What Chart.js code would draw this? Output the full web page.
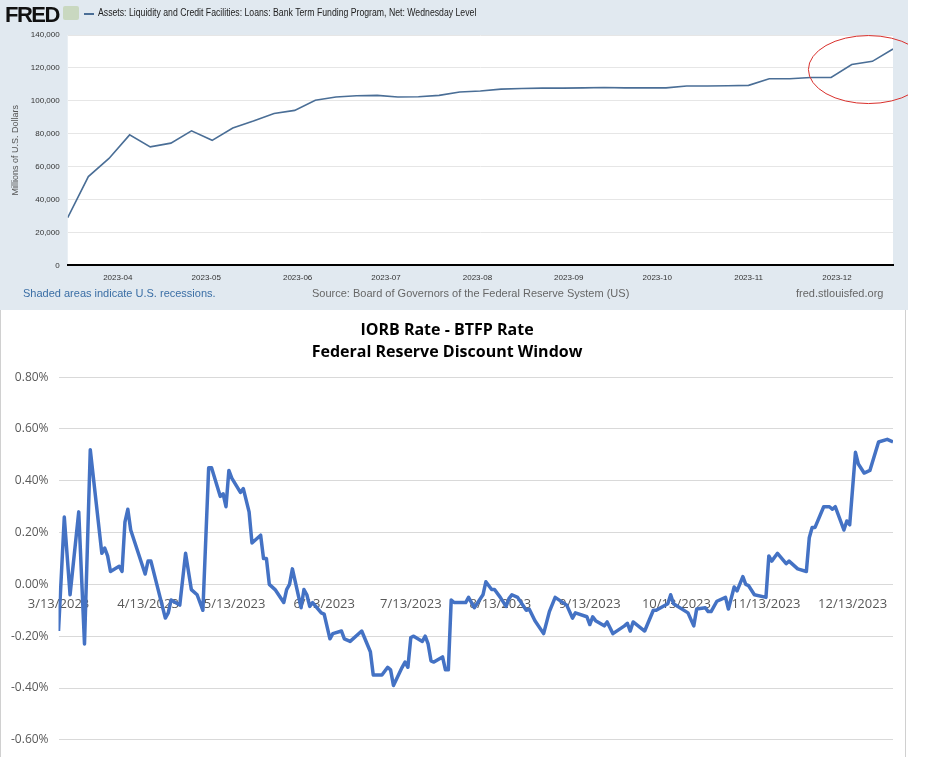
<!DOCTYPE html>
<html><head><meta charset="utf-8">
<script src="https://cdn.jsdelivr.net/npm/chart.js@4"></script>
<style>
body{margin:0;width:927px;height:757px;background:#fff;position:relative;overflow:hidden;font-family:"Liberation Sans",Arial,sans-serif}
#top{position:absolute;left:0;top:0;width:908px;height:310px;background:#e1e9f0}
#bot{position:absolute;left:0;top:310px;width:906px;height:447px;background:#fff;border-left:1px solid #d0d0d0;border-right:1px solid #d0d0d0;box-sizing:border-box}
.t{position:absolute;white-space:nowrap}
</style></head><body>
<div id="top"><canvas id="c1" width="908" height="310"></canvas>
<div class="t" style="left:5px;top:2px;font:bold 22px 'Liberation Sans';letter-spacing:-1.5px;color:#111">FRED</div>
<div class="t" style="left:63px;top:6px;width:16px;height:14px;background:#c9d8c0;border-radius:2px"></div>
<div class="t" style="left:84px;top:13px;width:10px;height:2px;background:#4a6e96"></div>
<div class="t" style="left:98px;top:7px;font:10px 'Liberation Sans Narrow','Liberation Sans';color:#222;transform:scaleX(0.87);transform-origin:left">Assets: Liquidity and Credit Facilities: Loans: Bank Term Funding Program, Net: Wednesday Level</div>
<div class="t" style="left:23px;top:287px;font:11px 'Liberation Sans Narrow','Liberation Sans';color:#3a6ea5">Shaded areas indicate U.S. recessions.</div>
<div class="t" style="left:312px;top:287px;font:11px 'Liberation Sans Narrow','Liberation Sans';color:#666">Source: Board of Governors of the Federal Reserve System (US)</div>
<div class="t" style="left:796px;top:287px;font:11px 'Liberation Sans Narrow','Liberation Sans';color:#666">fred.stlouisfed.org</div>
</div>
<div id="bot"><canvas id="c2" width="904" height="447"></canvas></div>
<script>
// ---- top chart data (weekly, Wednesday) ----
const topStart = '2023-03-15';
const topValues = [29000,54000,65000,79300,72000,74300,81800,76000,83500,87700,92300,94200,100400,102300,103100,103300,102300,102500,103300,105400,106000,107100,107500,107700,107700,107900,108100,107900,107900,107900,109000,109000,109200,109400,113400,113400,114200,114200,122100,124000,131500];
const topMonthTicks = ['2023-04','2023-05','2023-06','2023-07','2023-08','2023-09','2023-10','2023-11','2023-12'];
const topYTicks = [0,20000,40000,60000,80000,100000,120000,140000];
// ---- bottom chart data ----
const botTickLabels = ['3/13/2023','4/13/2023','5/13/2023','6/13/2023','7/13/2023','8/13/2023','9/13/2023','10/13/2023','11/13/2023','12/13/2023'];
const botTickDays = [0,31,61,92,122,153,184,214,245,275];
const botDays = [0,2,4,7,9,11,15,16,17,18,21,22,23,24,25,30,31,32,37,38,39,42,44,46,48,50,52,53,56,57,58,59,60,63,64,66,67,70,71,72,73,75,78,79,80,81,84,85,86,87,88,91,92,94,95,98,99,101,105,108,109,112,114,115,116,119,120,121,122,123,126,127,128,129,130,133,134,135,136,137,141,142,144,147,148,150,151,153,155,156,157,159,162,163,165,168,170,172,176,178,179,183,184,185,186,189,190,192,196,197,198,199,203,206,207,211,212,213,218,220,221,224,225,226,228,231,232,234,235,237,238,239,241,245,246,247,249,252,253,256,259,260,261,262,265,267,268,269,272,273,274,276,277,279,281,284,287,289];
const botValues = [-0.18,0.26,-0.04,0.28,-0.23,0.52,0.12,0.14,0.11,0.05,0.07,0.05,0.24,0.29,0.21,0.04,0.09,0.09,-0.13,-0.11,-0.06,-0.08,0.12,-0.02,-0.04,-0.10,0.45,0.45,0.34,0.35,0.30,0.44,0.41,0.355,0.37,0.28,0.16,0.19,0.10,0.10,0.00,-0.02,-0.07,-0.02,0.00,0.06,-0.09,-0.02,-0.04,-0.085,-0.07,-0.11,-0.115,-0.21,-0.19,-0.18,-0.21,-0.22,-0.18,-0.26,-0.35,-0.35,-0.32,-0.33,-0.39,-0.32,-0.30,-0.32,-0.205,-0.20,-0.22,-0.20,-0.23,-0.295,-0.30,-0.28,-0.33,-0.33,-0.06,-0.07,-0.07,-0.05,-0.09,-0.04,0.01,-0.02,-0.02,-0.05,-0.085,-0.055,-0.04,-0.05,-0.10,-0.095,-0.14,-0.19,-0.105,-0.05,-0.08,-0.13,-0.11,-0.125,-0.155,-0.125,-0.14,-0.16,-0.145,-0.19,-0.16,-0.15,-0.18,-0.145,-0.18,-0.10,-0.10,-0.075,-0.04,-0.075,-0.11,-0.16,-0.095,-0.09,-0.105,-0.105,-0.065,-0.05,-0.095,-0.01,-0.025,0.03,0.00,-0.005,-0.04,-0.05,0.11,0.09,0.12,0.08,0.09,0.06,0.05,0.18,0.22,0.22,0.30,0.30,0.29,0.30,0.21,0.245,0.23,0.51,0.465,0.43,0.44,0.55,0.56,0.55];
const botYTicks = [-0.6,-0.4,-0.2,0,0.2,0.4,0.6,0.8];

const DAY = 86400000;
const t0 = Date.parse(topStart);
const topPts = topValues.map((v,i)=>({x:t0+i*7*DAY,y:v}));
const monthMs = topMonthTicks.map(m=>Date.parse(m+'-01'));

new Chart(document.getElementById('c1'),{
 type:'line',
 data:{datasets:[{data:topPts,borderColor:'#4a6e96',borderWidth:1.6,pointRadius:0,tension:0}]},
 options:{responsive:false,animation:false,
  layout:{padding:{top:35,right:15,bottom:27,left:6}},
  plugins:{legend:{display:false},tooltip:{enabled:false}},
  scales:{
   x:{type:'linear',min:topPts[0].x,max:topPts[topPts.length-1].x,
     afterBuildTicks:a=>{a.ticks=monthMs.map(v=>({value:v}));},
     ticks:{autoSkip:false,maxRotation:0,color:'#333',font:{size:8},padding:0,callback:(v)=>topMonthTicks[monthMs.indexOf(v)]},
     grid:{display:false},border:{color:'#000',width:2}},
   y:{min:0,max:140000,
     afterBuildTicks:a=>{a.ticks=topYTicks.map(v=>({value:v}));},
     ticks:{color:'#333',font:{size:8},padding:8,callback:v=>v.toLocaleString('en-US')},
     grid:{color:'#e6e6e6',drawTicks:false},border:{display:false},
     title:{display:true,text:'Millions of U.S. Dollars',color:'#555',font:{size:9},padding:{bottom:2}}}
  }},
 plugins:[{id:'bg',beforeDraw(c){const a=c.chartArea,x=c.ctx;x.save();x.fillStyle='#fff';x.fillRect(a.left,a.top,a.right-a.left,a.bottom-a.top);x.restore();},
  afterDraw(c){const xs=c.scales.x,ys=c.scales.y,x=c.ctx;
   const cx=(xs.getPixelForValue(topPts[37].x)+xs.getPixelForValue(topPts[38].x))/2+27, cy=ys.getPixelForValue(119000);
   x.save();x.strokeStyle='#d9302c';x.lineWidth=1;x.beginPath();x.ellipse(cx,cy,60,34,0,0,Math.PI*2);x.stroke();x.restore();}}]
});

new Chart(document.getElementById('c2'),{
 type:'line',
 data:{datasets:[{data:botDays.map((d,i)=>({x:d,y:botValues[i]})),borderColor:'#4472c4',borderWidth:3.5,pointRadius:0,tension:0,borderJoinStyle:'round'}]},
 options:{responsive:false,animation:false,
  layout:{padding:{top:0,right:12,bottom:6,left:0}},
  plugins:{legend:{display:false},tooltip:{enabled:false},
   title:{display:true,text:['IORB Rate - BTFP Rate','Federal Reserve Discount Window'],color:'#000',font:{family:'Open Sans',size:16,weight:'bold',lineHeight:1.35},padding:{top:10,bottom:14}}},
  scales:{
   x:{type:'linear',min:0,max:289,position:{y:0},
     afterBuildTicks:a=>{a.ticks=botTickDays.map(v=>({value:v}));},
     ticks:{autoSkip:false,maxRotation:0,color:'#595959',font:{family:'Open Sans',size:13},padding:4,callback:v=>botTickLabels[botTickDays.indexOf(v)]},
     grid:{display:false},border:{display:false}},
   y:{min:-0.6,max:0.8,
     afterBuildTicks:a=>{a.ticks=botYTicks.map(v=>({value:v}));},
     ticks:{color:'#595959',font:{family:'Open Sans',size:12},padding:10,callback:v=>v.toFixed(2)+'%'},
     grid:{color:'#d9d9d9',drawTicks:false},border:{display:false}}
  }}
});
</script></body></html>
